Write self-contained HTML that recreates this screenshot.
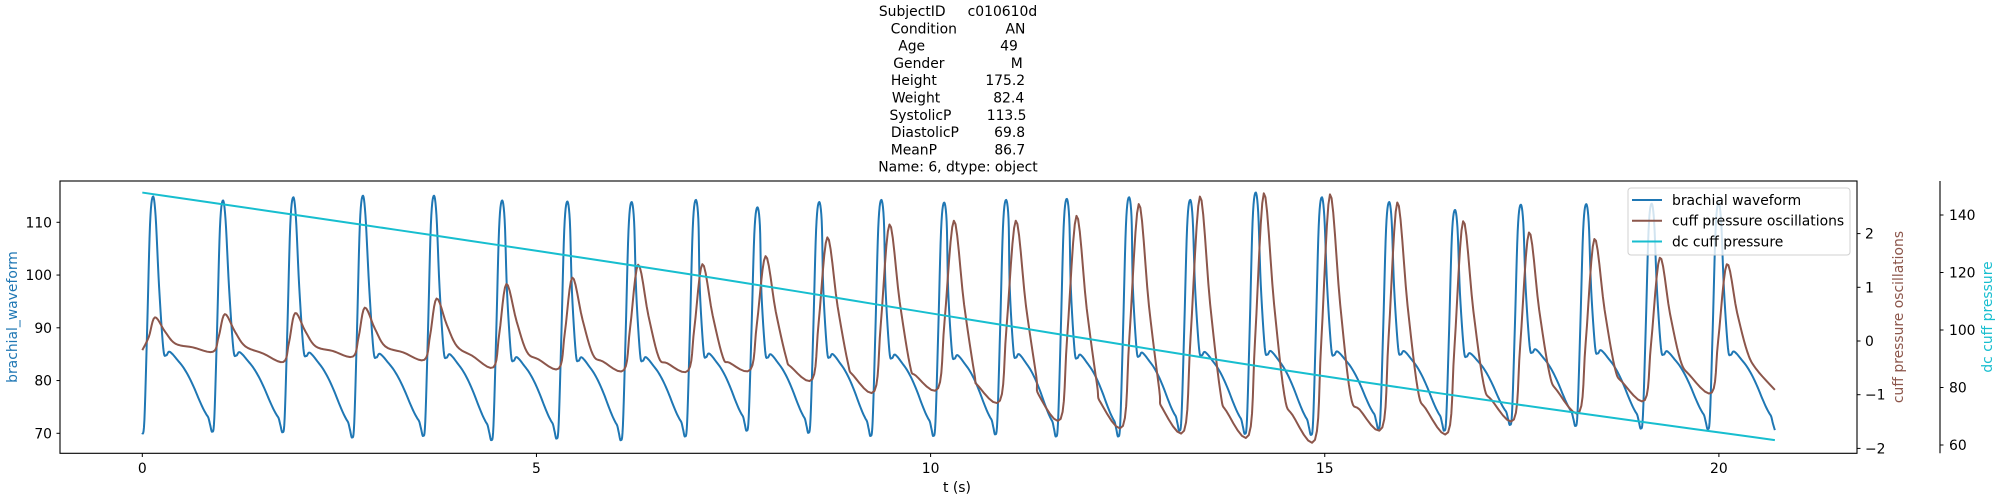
<!DOCTYPE html>
<html><head><meta charset="utf-8">
<style>
html,body{margin:0;padding:0;background:#fff;}
svg{display:block;font-family:"DejaVu Sans","Liberation Sans",sans-serif;}
text{white-space:pre;}
</style></head>
<body>
<svg id="chart" width="2000" height="500" viewBox="0 0 2000 500" xmlns="http://www.w3.org/2000/svg">
  <g id="title" font-size="13.9" text-anchor="middle" fill="#000">
    <text x="958" y="16">SubjectID     c010610d</text>
    <text x="958" y="33.3">Condition           AN</text>
    <text x="958" y="50.6">Age                 49</text>
    <text x="958" y="67.9">Gender               M</text>
    <text x="958" y="85.2">Height           175.2</text>
    <text x="958" y="102.5">Weight            82.4</text>
    <text x="958" y="119.8">SystolicP        113.5</text>
    <text x="958" y="137.1">DiastolicP        69.8</text>
    <text x="958" y="154.4">MeanP             86.7</text>
    <text x="958" y="171.7">Name: 6, dtype: object</text>
  </g>
  <defs><clipPath id="plotclip"><rect x="60" y="181" width="1797" height="272.3"/></clipPath></defs>
  <g id="series" clip-path="url(#plotclip)"></g>
  <rect x="60" y="181" width="1797" height="272.3" fill="none" stroke="#000" stroke-width="1.1"/>
  <line x1="1940" y1="181" x2="1940" y2="453.3" stroke="#000" stroke-width="1.1"/>
  <g id="axes" font-size="13.9" fill="#000"></g>
  <text x="957" y="492" font-size="13.9" text-anchor="middle">t (s)</text>
  <text transform="translate(17,317) rotate(-90)" font-size="13.9" text-anchor="middle" fill="#1f77b4">brachial_waveform</text>
  <text transform="translate(1903,317) rotate(-90)" font-size="13.9" text-anchor="middle" fill="#8c564b">cuff pressure oscillations</text>
  <text transform="translate(1992,317) rotate(-90)" font-size="13.9" text-anchor="middle" fill="#17becf">dc cuff pressure</text>
  <g>
    <rect x="1628" y="188" width="222" height="67" rx="3" fill="#fff" fill-opacity="0.8" stroke="#d0d0d0" stroke-width="1"/>
    <g><line x1="1632" y1="200" x2="1662" y2="200" stroke="#1f77b4" stroke-width="2"/><text x="1672" y="205" font-size="13.9">brachial waveform</text></g>
    <g><line x1="1632" y1="220.7" x2="1662" y2="220.7" stroke="#8c564b" stroke-width="2"/><text x="1672" y="225.7" font-size="13.9">cuff pressure oscillations</text></g>
    <g><line x1="1632" y1="241.5" x2="1662" y2="241.5" stroke="#17becf" stroke-width="2"/><text x="1672" y="246.5" font-size="13.9">dc cuff pressure</text></g>
  </g>
</svg>
<script>
// ---- data ----
const footTimes = [0,0.887,1.779,2.662,3.563,4.428,5.255,6.07,6.885,7.666,8.45,9.238,10.035,10.82,11.59,12.38,13.156,13.987,14.826,15.68,16.515,17.35,18.18,19.01,19.86,20.71];
const footValues = [69.8,70.3,70.2,69.2,69.5,68.7,69.0,68.7,69.4,70.5,70.1,69.5,69.5,69.8,69.4,69.4,70.5,69.9,69.7,70.9,70.5,71.6,71.4,70.9,70.8,70.6];
const peakValues = [114.85,114.1,114.7,115.0,115.0,114.1,113.9,113.8,114.2,112.8,113.8,114.2,113.7,114.2,114.4,114.7,114.2,115.6,114.7,113.8,112.3,113.3,113.4,113.5,113.6];
const oscPeaks = [0.44,0.5,0.52,0.62,0.79,1.06,1.18,1.42,1.43,1.58,1.93,2.17,2.24,2.24,2.33,2.55,2.69,2.75,2.73,2.58,2.23,2.02,1.9,1.55,1.43];
const oscTroughs = [-0.17,-0.2,-0.39,-0.29,-0.35,-0.49,-0.51,-0.54,-0.55,-0.53,-0.71,-0.93,-0.88,-1.11,-1.45,-1.58,-1.67,-1.75,-1.84,-1.61,-1.70,-1.46,-1.32,-1.10,-0.96,-0.91];
const oscShoulders = [-0.05,-0.1,-0.1,-0.1,-0.1,-0.2,-0.25,-0.3,-0.3,-0.3,-0.4,-0.45,-0.6,-0.65,-0.8,-0.9,-0.95,-1.0,-1.0,-0.9,-0.8,-0.6,-0.5,-0.35,-0.2];
const oscLags = [0.02,0.02,0.02,0.02,0.03,0.05,0.06,0.08,0.08,0.1,0.1,0.1,0.12,0.12,0.12,0.12,0.12,0.1,0.1,0.1,0.1,0.1,0.1,0.1,0.1];
const dcTimes = [0,3.7,7.2,10.14,14.0,17.34,20.71];
const dcValues = [147.8,132.9,118.3,105.2,88.1,74.5,61.7];
const xTicks = [0,5,10,15,20];
const yTicks = [70,80,90,100,110];
const oscTicks = [-2,-1,0,1,2];
const dcTicks = [60,80,100,120,140];

// ---- axis functions ----
const X = t => 142.3 + 78.83*t;
const Y = v => 433.3 - (v-70)*5.275;
const YO = v => 341 - v*53.7;
const YD = v => 330 - (v-100)*2.875;

// beat shape template (styling of the curve between read values)
const tplPh = [0,0.03,0.07,0.11,0.15,0.19,0.24,0.30,0.34,0.38,0.43,0.50,0.58,0.66,0.74,0.81,0.87,0.915,0.945,0.97];
const tplN  = [0,0.06,0.45,0.88,1.0,0.92,0.62,0.36,0.33,0.345,0.335,0.31,0.28,0.24,0.19,0.14,0.10,0.075,0.06,0.03];

function catmull(pts, n){
  const out=[];
  for(let i=0;i<pts.length-1;i++){
    const p0=pts[Math.max(0,i-1)],p1=pts[i],p2=pts[i+1],p3=pts[Math.min(pts.length-1,i+2)];
    for(let k=0;k<n;k++){
      const s=k/n,s2=s*s,s3=s2*s;
      const f=(a,b,c,d)=>0.5*((2*b)+(-a+c)*s+(2*a-5*b+4*c-d)*s2+(-a+3*b-3*c+d)*s3);
      out.push([f(p0[0],p1[0],p2[0],p3[0]),f(p0[1],p1[1],p2[1],p3[1])]);
    }
  }
  out.push(pts[pts.length-1]);
  return out;
}
function pathFrom(pts){return 'M'+pts.map(p=>p[0].toFixed(2)+','+p[1].toFixed(2)).join('L');}

const series=document.getElementById('series');
const NS='http://www.w3.org/2000/svg';
function addPath(d,color,name){
  const p=document.createElementNS(NS,'path');
  p.setAttribute('d',d);p.setAttribute('fill','none');p.setAttribute('stroke',color);
  p.setAttribute('stroke-width','2');p.setAttribute('stroke-linejoin','round');
  
  
  series.appendChild(p);
}

// brachial
let bp=[];
for(let i=0;i<peakValues.length;i++){
  const T0=footTimes[i],T1=footTimes[i+1],D=T1-T0,F0=footValues[i],F1=footValues[i+1],P=peakValues[i];
  for(let j=0;j<tplPh.length;j++){
    const ph=tplPh[j];const base=F0+(F1-F0)*ph;
    const tt=(j<=5)? T0+ph*0.887 : T0+ph*D;
    bp.push([X(tt),Y(base+tplN[j]*(P-base))]);
  }
}
bp.push([X(footTimes[footTimes.length-1]),Y(footValues[footValues.length-1])]);
addPath(pathFrom(catmull(bp,6)),'#1f77b4','brachial-waveform-line');

// cuff oscillations
let op=[];
const last=footTimes.length-1;
const troughT=i=> (i===0||i===last)? footTimes[i] : footTimes[i]+0.5*oscLags[Math.min(i,oscLags.length-1)];
for(let i=0;i<oscPeaks.length;i++){
  const T0=footTimes[i],T1=footTimes[i+1],L=oscLags[i],Pk=oscPeaks[i],S=oscShoulders[i];
  const tr0=oscTroughs[i],tr1=oscTroughs[i+1];
  op.push([X(troughT(i)),YO(tr0)]);
  op.push([X(T0+0.07+0.6*L),YO(tr0+0.4*(Pk-tr0))]);
  op.push([X(T0+0.14+L),YO(Pk)]);
  op.push([X(T0+0.27+L),YO(S+0.45*(Pk-S))]);
  op.push([X(T0+0.40+L),YO(S)]);
  op.push([X(T0+0.72*(T1-T0)),YO(S+0.45*(tr1-S))]);
}
op.push([X(footTimes[last]),YO(oscTroughs[last])]);
addPath(pathFrom(catmull(op,6)),'#8c564b','cuff-oscillation-line');

// dc cuff
addPath(pathFrom(catmull(dcTimes.map((t,i)=>[X(t),YD(dcValues[i])]),8)),'#17becf','dc-cuff-pressure-line');

// axes ticks
const axes=document.getElementById('axes');
function tick(x1,y1,x2,y2){const l=document.createElementNS(NS,'line');l.setAttribute('x1',x1);l.setAttribute('y1',y1);l.setAttribute('x2',x2);l.setAttribute('y2',y2);l.setAttribute('stroke','#000');l.setAttribute('stroke-width','1');
  
  
  axes.appendChild(l);}
function label(x,y,s,anchor,name){const t=document.createElementNS(NS,'text');t.setAttribute('x',x);t.setAttribute('y',y);t.setAttribute('text-anchor',anchor);t.textContent=s;
  
  
  axes.appendChild(t);}
const fmt=v=>(v<0?'\u2212'+(-v):String(v));
xTicks.forEach(v=>{tick(X(v),453.3,X(v),457);label(X(v),473,fmt(v),'middle','x-tick-label');});
yTicks.forEach(v=>{tick(60,Y(v),56.5,Y(v));label(52,Y(v)+5,fmt(v),'end','y-tick-label');});
oscTicks.forEach(v=>{tick(1857,YO(v),1860.5,YO(v));label(1865,YO(v)+5,fmt(v),'start','osc-tick-label');});
dcTicks.forEach(v=>{tick(1940,YD(v),1943.5,YD(v));label(1949,YD(v)+5,fmt(v),'start','dc-tick-label');});
</script>
</body></html>
